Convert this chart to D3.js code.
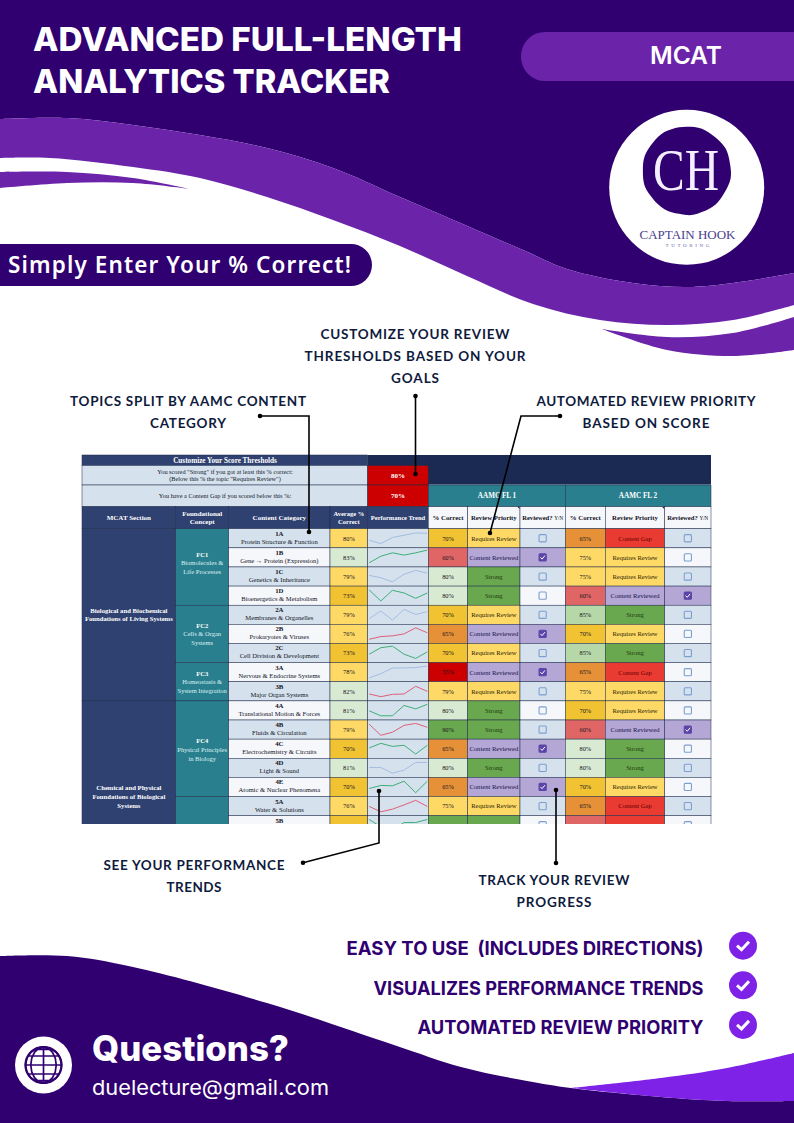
<!DOCTYPE html>
<html>
<head>
<meta charset="utf-8">
<style>
html, body { margin: 0; padding: 0; background: #fff; }
svg { display: block; }
</style>
<script src="https://cdn.jsdelivr.net/npm/d3@7"></script>
</head>
<body>
<svg id="page" width="794" height="1123"></svg>
<script>
// table data
var codes = ['1A', '1B', '1C', '1D', '2A', '2B', '2C', '3A', '3B', '4A', '4B', '4C', '4D', '4E', '5A', '5B'];
var names = ['Protein Structure & Function', 'Gene \u2192 Protein (Expression)', 'Genetics & Inheritance',
    'Bioenergetics & Metabolism', 'Membranes & Organelles', 'Prokaryotes & Viruses', 'Cell Division & Development',
    'Nervous & Endocrine Systems', 'Major Organ Systems', 'Translational Motion & Forces', 'Fluids & Circulation',
    'Electrochemistry & Circuits', 'Light & Sound', 'Atomic & Nuclear Phenomena', 'Water & Solutions', ''];
var avgScores = [79.6, 83, 79, 73, 79, 76, 73, 78, 82, 81, 79, 70, 81, 70, 76, 74];
var fl1Scores = [70, 60, 80, 80, 70, 65, 70, 55, 79, 80, 90, 65, 80, 65, 75, 90];
var fl2Scores = [65, 75, 75, 60, 85, 70, 85, 65, 75, 70, 60, 80, 80, 70, 65, 60];
var fl1Reviewed = [0, 1, 0, 0, 0, 1, 0, 1, 0, 0, 0, 1, 0, 1, 0, 0];
var fl2Reviewed = [0, 0, 0, 1, 0, 0, 0, 0, 0, 0, 1, 0, 0, 0, 0, 0];
var trendKinds = ['blue', 'green', 'blue', 'green', 'blue', 'red', 'green', 'blue', 'red', 'green', 'red', 'green', 'blue', 'green', 'red', 'green'];
var trends = [
    [70, 61, 77, 83, 89, 88],
    [61, 78, 87, 81, 87, 94],
    [78, 72, 61, 81, 91, 84],
    [90, 61, 89, 82, 68, 82],
    [65, 85, 61, 89, 76, 83],
    [61, 68, 70, 75, 91, 78],
    [72, 89, 93, 72, 61, 78],
    [60, 71, 86, 86, 87, 91],
    [68, 61, 67, 68, 88, 75],
    [74, 61, 61, 88, 79, 91],
    [89, 60, 68, 86, 91, 81],
    [77, 89, 81, 84, 61, 84],
    [76, 76, 61, 69, 89, 89],
    [71, 79, 78, 90, 60, 90],
    [74, 60, 67, 78, 90, 74],
    [90, 71, 62, 82, 82, 90]
];
var strongCut = 80;
var gapCut = 70;
var scoreCuts = [60, 65, 70, 75, 80, 85, 90];
var scoreColors = ['#cc0000', '#e06666', '#e69138', '#f1c232', '#ffd966', '#d9ead3', '#b6d7a8', '#6aa84f'];
var bullets = ['EASY TO USE  (INCLUDES DIRECTIONS)', 'VISUALIZES PERFORMANCE TRENDS', 'AUTOMATED REVIEW PRIORITY'];

var DARK = '#300070', MID = '#6a23a9', BRIGHT = '#7e22e8', NAVY = '#2f4170', TEAL = '#2a7f8e',
    INK = '#0f1b3d', BLUE = '#d5e2ee', PALE = '#f5f7fb';
var HEAD = 'Inter, Lato, sans-serif', SERIF = '"Liberation Serif", serif';

var svg = d3.select('#page');

function label(parent, x, y, str, o) {
    o = o || {};
    var t = parent.append('text')
        .attr('x', x)
        .attr('y', y)
        .attr('text-anchor', o.anchor || 'middle')
        .attr('font-family', o.family || SERIF)
        .attr('font-size', o.size || 7)
        .attr('font-weight', o.weight || 400)
        .attr('fill', o.fill || '#14141f')
        .style('white-space', 'pre')
        .text(str);
    if (o.len) {
        t.attr('textLength', o.len).attr('lengthAdjust', o.spaced ? 'spacing' : 'spacingAndGlyphs');
    }
    return t;
}

// background swooshes
var edge = d3.line().curve(d3.curveCatmullRom.alpha(0.5));

function band(upper, lower) {
    return edge(upper) + 'L' + edge(lower.slice().reverse()).slice(1) + 'Z';
}

var bandTop = [[0, 119], [67, 118], [133, 125], [200, 135], [267, 148], [333, 168], [400, 197], [523, 250], [567, 269], [633, 283], [687, 287], [733, 283], [794, 273]];
var bandBottom = [[0, 158], [50, 158], [133, 167], [200, 178], [267, 197], [333, 220], [400, 246], [467, 276], [533, 304], [600, 320], [667, 325], [733, 320], [794, 305]];

svg.append('path')
    .attr('d', 'M0,0L794,0L794,273L' + edge(bandTop.slice().reverse()).slice(1) + 'Z')
    .attr('fill', DARK);
svg.append('path').attr('d', band(bandTop, bandBottom)).attr('fill', MID);
svg.append('path')
    .attr('d', band([[0, 172], [67, 172], [133, 178], [190, 189]], [[0, 188], [67, 183], [133, 183], [190, 189]]))
    .attr('fill', MID);
svg.append('path')
    .attr('d', band([[602, 329], [667, 337], [733, 333], [794, 317]], [[602, 329], [667, 350], [733, 356], [794, 350]]))
    .attr('fill', MID);

var footTop = [[0, 956], [67, 956], [133, 967], [267, 1003], [394, 1045], [461, 1067], [527, 1081], [571, 1088], [661, 1097], [727, 1101], [794, 1101]];
svg.append('path')
    .attr('d', edge(footTop) + 'L794,1123L0,1123Z')
    .attr('fill', DARK);
svg.append('path')
    .attr('d', band([[571, 1088], [661, 1078], [727, 1068], [794, 1053]], [[571, 1088], [661, 1097], [727, 1101], [794, 1101]]))
    .attr('fill', BRIGHT);

// title block
label(svg, 33, 50.7, 'ADVANCED FULL-LENGTH', {anchor: 'start', family: HEAD, size: 33, weight: 800, fill: '#fff', len: 429});
label(svg, 33, 93, 'ANALYTICS TRACKER', {anchor: 'start', family: HEAD, size: 33, weight: 800, fill: '#fff', len: 357});

svg.append('path')
    .attr('d', 'M794,32L545,32A24,24 0 0 0 521,56.5A24,24 0 0 0 545,81L794,81Z')
    .attr('fill', MID);
label(svg, 686, 64.3, 'MCAT', {family: HEAD, size: 24, weight: 600, fill: '#fff', len: 72});

svg.append('path')
    .attr('d', 'M0,244L350,244A21,21 0 0 1 372,265A21,21 0 0 1 350,286L0,286Z')
    .attr('fill', DARK);
label(svg, 8, 272.7, 'Simply Enter Your % Correct!', {anchor: 'start', family: '"Noto Sans", sans-serif', size: 22.5, weight: 600, fill: '#fff', len: 343, spaced: true});

// logo
svg.append('circle').attr('cx', 686.7).attr('cy', 187.3).attr('r', 77.5).attr('fill', '#fff');
var blobRadii = [44, 44.3, 44.6, 44.2, 43.9, 44.4, 44.8, 44.3, 43.8, 44.2, 44.6, 44.1, 43.7, 44, 44.5, 44.2, 44, 44.6, 44.4, 43.8, 44.1, 44.5, 44.2, 43.9, 44.3, 44.7, 44.2, 43.8, 44.2, 44.5, 44.1, 43.9, 44.4, 44.6, 44.2, 44];
var blob = d3.lineRadial()
    .angle(function(d, i) { return i / blobRadii.length * 2 * Math.PI; })
    .radius(function(d) { return d; })
    .curve(d3.curveCatmullRomClosed);
svg.append('path')
    .attr('transform', 'translate(686.7,170.7)')
    .attr('d', blob(blobRadii))
    .attr('fill', DARK);
label(svg, 686, 190, 'CH', {size: 60, fill: '#f4efff', len: 66});
label(svg, 687.5, 239.3, 'CAPTAIN HOOK', {size: 13, fill: '#4a3d8f', len: 96});
label(svg, 687.5, 246.7, 'TUTORING', {size: 5, fill: '#6b5fa8', len: 44, spaced: true});

// table
var table = svg.append('g').attr('clip-path', 'url(#tableClip)');
svg.append('clipPath').attr('id', 'tableClip')
    .append('rect').attr('x', 81).attr('y', 454).attr('width', 631).attr('height', 370);

var colX = [82, 175.7, 228.7, 330, 367.7, 428.3, 467.7, 520, 565.3, 605.3, 664.7, 711];
var y = d3.scaleBand().domain(d3.range(codes.length)).range([528.7, 528.7 + 19.13 * codes.length]);
var rowH = y.bandwidth();
var scoreColor = d3.scaleThreshold().domain(scoreCuts).range(scoreColors);
var pct = function(v) { return Math.round(v) + '%'; };

function cell(x0, x1, y0, y1, fill) {
    return table.append('rect')
        .attr('x', x0).attr('y', y0)
        .attr('width', x1 - x0).attr('height', y1 - y0)
        .attr('fill', fill)
        .attr('stroke', '#1c2a4a')
        .attr('stroke-width', 0.5);
}

function stack(lines, cx, cy, gap, o) {
    lines.forEach(function(s, i) {
        var st = Object.assign({}, o);
        if (i === 0 && o.firstBold) { st.weight = 700; st.fill = o.firstFill || o.fill; }
        label(table, cx, cy + (i - (lines.length - 1) / 2) * gap + 2.4, s, st);
    });
}

// threshold block
cell(367.7, 711, 455, 485, '#1b2a52').attr('stroke', 'none');
table.append('line').attr('x1', 428.3).attr('x2', 711).attr('y1', 484.6).attr('y2', 484.6)
    .attr('stroke', '#8fa9ba').attr('stroke-width', 0.8);
cell(82, 367.7, 455, 465.5, NAVY);
label(table, 225, 462.6, 'Customize Your Score Thresholds', {size: 7.2, weight: 700, fill: '#fff'});
cell(82, 367.7, 465.5, 485, BLUE);
label(table, 225, 473.5, 'You scored "Strong" if you got at least this % correct:', {size: 6.3});
label(table, 225, 481, '(Below this % the topic "Requires Review")', {size: 6.3});
cell(82, 367.7, 485, 506.7, BLUE);
label(table, 225, 498, 'You have a Content Gap if you scored below this %:', {size: 6.3});
cell(367.7, 428.3, 465.5, 485, '#cc0000');
cell(367.7, 428.3, 485, 506.7, '#cc0000');
label(table, 398, 477.5, pct(strongCut), {size: 7, weight: 700, fill: '#fff'});
label(table, 398, 498.3, pct(gapCut), {size: 7, weight: 700, fill: '#fff'});

// AAMC headers
cell(428.3, 565.3, 485, 506.7, TEAL);
cell(565.3, 711, 485, 506.7, TEAL);
label(table, 497, 498.3, 'AAMC FL 1', {size: 7.2, weight: 700, fill: '#fff'});
label(table, 638, 498.3, 'AAMC FL 2', {size: 7.2, weight: 700, fill: '#fff'});

// column headers
[['MCAT Section'], ['Foundational', 'Concept'], ['Content Category'], ['Average %', 'Correct'], ['Performance Trend']].forEach(function(h, i) {
    cell(colX[i], colX[i + 1], 506.7, 528.7, NAVY);
    stack(h, (colX[i] + colX[i + 1]) / 2, 517.7, 8.4, {size: i > 2 ? 6.5 : 7, weight: 700, fill: '#fff'});
});
d3.range(5, 11).forEach(function(i) {
    cell(colX[i], colX[i + 1], 506.7, 528.7, PALE);
    var cx = (colX[i] + colX[i + 1]) / 2, kind = (i - 5) % 3;
    if (kind === 2) {
        var t = label(table, cx, 520.2, 'Reviewed? ', {size: 6.6, weight: 700});
        t.append('tspan').attr('font-weight', 400).attr('font-size', 5.2).text('Y/N');
    } else {
        label(table, cx, 520.2, kind === 0 ? '% Correct' : 'Review Priority', {size: 6.8, weight: 700});
    }
});
[519.5, 664.2].forEach(function(x) {
    table.append('path').attr('d', d3.line()([[x - 2.2, 506.7], [x, 506.7], [x, 508.9]]) + 'Z').attr('fill', '#1c2a4a');
});

// merged section and concept cells
[[0, 9, ['Biological and Biochemical', 'Foundations of Living Systems']],
 [9, 19, ['Chemical and Physical', 'Foundations of Biological', 'Systems']]].forEach(function(s) {
    var y0 = 528.7 + s[0] * rowH, y1 = 528.7 + s[1] * rowH;
    cell(colX[0], colX[1], y0, y1, NAVY);
    stack(s[2], (colX[0] + colX[1]) / 2, (y0 + y1) / 2, 8.6, {size: 6.7, weight: 700, fill: '#fff'});
});
[[0, 4, ['FC1', 'Biomolecules &', 'Life Processes'], -4],
 [4, 7, ['FC2', 'Cells & Organ', 'Systems'], 0],
 [7, 9, ['FC3', 'Homeostasis &', 'System Integration'], 0],
 [9, 14, ['FC4', 'Physical Principles', 'in Biology'], 1],
 [14, 19, [], 0]].forEach(function(s) {
    var y0 = 528.7 + s[0] * rowH, y1 = 528.7 + s[1] * rowH;
    cell(colX[1], colX[2], y0, y1, TEAL);
    stack(s[2], (colX[1] + colX[2]) / 2, (y0 + y1) / 2 + s[3], 8.6, {size: 6.5, fill: '#dcf0f2', firstBold: true, firstFill: '#fff'});
});

function priority(score, reviewed) {
    if (reviewed) { return {text: 'Content Reviewed', fill: '#b4a7d6', ink: '#20124d'}; }
    if (score >= strongCut) { return {text: 'Strong', fill: '#6aa84f', ink: '#1d3a0e'}; }
    if (score < gapCut) { return {text: 'Content Gap', fill: '#ea3b32', ink: '#660000'}; }
    return {text: 'Requires Review', fill: '#ffd966', ink: '#2a1e05'};
}

function checkbox(cx, cy, checked) {
    table.append('rect')
        .attr('x', cx - 3.6).attr('y', cy - 3.6)
        .attr('width', 7.2).attr('height', 7.2)
        .attr('rx', 1)
        .attr('fill', checked ? '#5b45a8' : 'none')
        .attr('stroke', checked ? '#5b45a8' : '#7d9fd0')
        .attr('stroke-width', 1.1);
    if (checked) {
        table.append('path')
            .attr('d', d3.line()([[cx - 2.2, cy], [cx - 0.6, cy + 1.7], [cx + 2.3, cy - 1.8]]))
            .attr('fill', 'none')
            .attr('stroke', '#fff')
            .attr('stroke-width', 1);
    }
}

// rows
var trendColor = d3.scaleOrdinal().domain(['blue', 'green', 'red']).range(['#a6bde2', '#3fae75', '#de5f78']);
var trendX = d3.scalePoint().domain(d3.range(6)).range([colX[4] + 1.5, colX[5] - 1]);
var trendY = d3.scaleLinear().domain([50, 100]).range([rowH, 0]);
var spark = d3.line()
    .x(function(d, i) { return trendX(i); })
    .y(function(d) { return trendY(d); });

codes.forEach(function(code, i) {
    var top = y(i), bot = top + rowH, mid = top + rowH / 2;
    var zebra = i % 2 ? PALE : BLUE;

    cell(colX[2], colX[3], top, bot, zebra);
    label(table, (colX[2] + colX[3]) / 2, top + 7, code, {size: 6.8, weight: 700});
    label(table, (colX[2] + colX[3]) / 2, top + 15, names[i], {size: 6.6});

    cell(colX[3], colX[4], top, bot, scoreColor(avgScores[i]));
    label(table, (colX[3] + colX[4]) / 2, mid + 2.3, pct(avgScores[i]), {size: 6.4});

    cell(colX[4], colX[5], top, bot, BLUE);
    table.append('path')
        .attr('transform', 'translate(0,' + top + ')')
        .attr('d', spark(trends[i]))
        .attr('fill', 'none')
        .attr('stroke', trendColor(trendKinds[i]))
        .attr('stroke-width', 1);

    [[fl1Scores, fl1Reviewed, 5], [fl2Scores, fl2Reviewed, 8]].forEach(function(fl) {
        var score = fl[0][i], done = fl[1][i], c = fl[2], p = priority(score, done);
        cell(colX[c], colX[c + 1], top, bot, scoreColor(score));
        label(table, (colX[c] + colX[c + 1]) / 2, mid + 2.3, pct(score), {size: 6.4});
        cell(colX[c + 1], colX[c + 2], top, bot, p.fill);
        label(table, (colX[c + 1] + colX[c + 2]) / 2, mid + 2.4, p.text, {size: 6.6, fill: p.ink});
        cell(colX[c + 2], colX[c + 3], top, bot, done ? '#b4a7d6' : zebra);
        checkbox((colX[c + 2] + colX[c + 3]) / 2, mid, done);
    });
});

// callouts
var callouts = [
    {x: 415, lines: ['CUSTOMIZE YOUR REVIEW', 'THRESHOLDS BASED ON YOUR', 'GOALS'], y: 339, w: [189, 221, 48], pts: [[415.5, 396], [415.5, 474]]},
    {x: 188, lines: ['TOPICS SPLIT BY AAMC CONTENT', 'CATEGORY'], y: 406, w: [236, 76], pts: [[260, 416], [309, 416], [309, 532]]},
    {x: 646, lines: ['AUTOMATED REVIEW PRIORITY', 'BASED ON SCORE'], y: 406, w: [219, 127], pts: [[560, 416], [521, 416], [490, 533]]},
    {x: 194, lines: ['SEE YOUR PERFORMANCE', 'TRENDS'], y: 870, w: [181, 55], pts: [[303, 862.7], [379, 843], [379, 791]]},
    {x: 554, lines: ['TRACK YOUR REVIEW', 'PROGRESS'], y: 885, w: [151, 75], pts: [[556, 863], [556, 790]]}
];
callouts.forEach(function(c) {
    c.lines.forEach(function(s, i) {
        label(svg, c.x, c.y + i * 22, s, {family: 'Lato, sans-serif', size: 13.5, weight: 700, fill: INK, len: c.w[i], spaced: true});
    });
    svg.append('path')
        .attr('d', d3.line()(c.pts))
        .attr('fill', 'none')
        .attr('stroke', '#000')
        .attr('stroke-width', 1.6);
    [c.pts[0], c.pts[c.pts.length - 1]].forEach(function(p) {
        svg.append('circle').attr('cx', p[0]).attr('cy', p[1]).attr('r', 2.3).attr('fill', '#000');
    });
});

// feature list
var bulletWidths = [357, 330, 286];
bullets.forEach(function(s, i) {
    var by = 955 + i * 39.6;
    label(svg, 703.5, by, s, {anchor: 'end', family: HEAD, size: 19, weight: 700, fill: DARK, len: bulletWidths[i]});
    svg.append('circle').attr('cx', 743).attr('cy', by - 9.3).attr('r', 14).attr('fill', BRIGHT);
    svg.append('path')
        .attr('d', d3.line()([[737, by - 9.3], [741.5, by - 5.3], [749, by - 13.3]]))
        .attr('fill', 'none')
        .attr('stroke', '#fff')
        .attr('stroke-width', 3);
});

// contact
svg.append('circle').attr('cx', 43.5).attr('cy', 1065).attr('r', 28.5).attr('fill', '#fff');
var globeProj = d3.geoOrthographic().scale(18).translate([43.5, 1065]).rotate([0, 0]);
var globe = d3.geoPath(globeProj);
svg.append('path')
    .attr('d', globe(d3.geoGraticule().step([45, 30])()))
    .attr('fill', 'none')
    .attr('stroke', DARK)
    .attr('stroke-width', 1.7);
svg.append('path')
    .attr('d', globe({type: 'Sphere'}))
    .attr('fill', 'none')
    .attr('stroke', DARK)
    .attr('stroke-width', 2.2);
label(svg, 92, 1060.7, 'Questions?', {anchor: 'start', family: HEAD, size: 35, weight: 800, fill: '#fff', len: 197});
label(svg, 92, 1095, 'duelecture@gmail.com', {anchor: 'start', family: HEAD, size: 20.5, fill: '#fff', len: 237});
</script>
</body>
</html>
